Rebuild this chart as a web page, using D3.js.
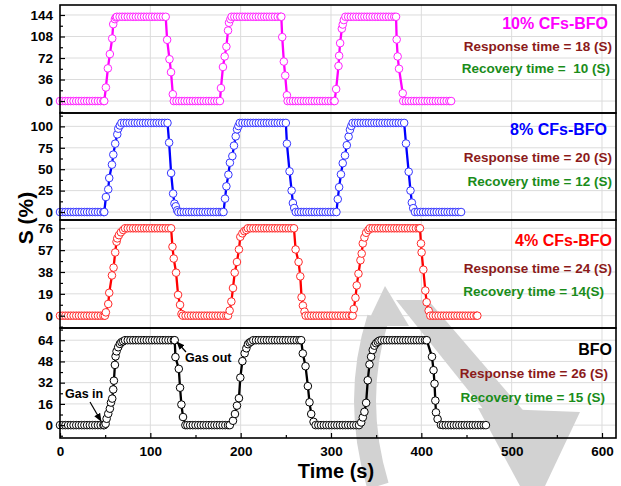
<!DOCTYPE html>
<html><head><meta charset="utf-8">
<script src="https://cdn.jsdelivr.net/npm/d3@7"></script>
<style>
body{margin:0;background:#fff}
text{font-family:"Liberation Sans",Arial,sans-serif;font-weight:bold}
</style>
</head><body>
<svg id="chart" width="621" height="486"></svg>
<script>
// ---------------- DATA ----------------
const xTickValues = [0,100,200,300,400,500,600];
const xMinorTicks = [50,150,250,350,450,550];
const xDomain = [0,615.5];

const panelNames = ["10% CFs-BFO","8% CFs-BFO","4% CFs-BFO","BFO"];
const responseLabels = ["Response time = 18 (S)","Response time = 20 (S)","Response time = 24 (S)","Response time = 26 (S)"];
const recoveryLabels = ["Recovery time =  10 (S)","Recovery time = 12 (S)","Recovery time = 14(S)","Recovery time = 15 (S)"];

const yTicks10 = [0,36,72,108,144];
const yTicks8  = [0,25,50,75,100];
const yTicks4  = [0,19,38,57,76];
const yTicks0  = [0,16,32,48,64];

const yDomain10 = [-20,160.7];
const yDomain8  = [-9.3,115.6];
const yDomain4  = [-10.7,83.2];
const yDomain0  = [-9.7,73.2];

// [time (s), S (%)]
const s10 = [[0,0],[3,0],[6,0],[9,0],[12,0],[15,0],[18,0],[21,0],[24,0],[27,0],[30,0],[33,0],[36,0],[39,0],[42,0],[45,0],[48,0],[49,0],
[50.8,22.7],[53,54.7],[55.2,78.6],[57.8,104.7],[58.9,128.6],[60.8,137],[61.9,140],
[63,141],[66,141],[69,141],[72,141],[75,141],[78,141],[81,141],[84,141],[87,141],[90,141],[93,141],[96,141],[99,141],[102,141],[105,141],[108,141],[111,141],[114,141],[117,141],
[118.6,102.5],[121.2,70],[122.9,48.3],[124.9,11.4],
[126,0],[129,0],[132,0],[135,0],[138,0],[141,0],[144,0],[147,0],[150,0],[153,0],[156,0],[159,0],[162,0],[165,0],[168,0],[171,0],[174,0],[177,0],
[178.2,21.7],[180.4,57],[182.3,74.6],[184.2,91],[186,118],[187.1,131],[188.6,137],
[190,141],[193,141],[196,141],[199,141],[202,141],[205,141],[208,141],[211,141],[214,141],[217,141],[220,141],[223,141],[226,141],[229,141],[232,141],[235,141],[238,141],[241,141],[244,141],[245,141],
[246,107],[247.8,66],[249.3,42.7],[251.2,9.7],
[252,0],[255,0],[258,0],[261,0],[264,0],[267,0],[270,0],[273,0],[276,0],[279,0],[282,0],[285,0],[288,0],[291,0],[294,0],[297,0],[300,0],[303,0],[304,0],
[305.7,20],[308.3,58.6],[309,75.7],[310.1,96.9],[312,121],[313,128],[314.2,135.5],
[316,141],[319,141],[322,141],[325,141],[328,141],[331,141],[334,141],[337,141],[340,141],[343,141],[346,141],[349,141],[352,141],[355,141],[358,141],[361,141],[364,141],[367,141],[370,141],[372,141],
[372.7,103],[373.8,74.6],[375.3,54],[379.4,13],
[380,0],[383,0],[386,0],[389,0],[392,0],[395,0],[398,0],[401,0],[404,0],[407,0],[410,0],[413,0],[416,0],[419,0],[422,0],[425,0],[428,0],[431,0],[433,0]];

const s8 = [[0,0],[3,0],[6,0],[9,0],[12,0],[15,0],[18,0],[21,0],[24,0],[27,0],[30,0],[33,0],[36,0],[39,0],[42,0],[45,0],[48,0],[49,0],
[50.8,17.5],[53.4,26.5],[54.5,39.7],[57.5,55.3],[59,67],[61.1,79.8],[63.4,90.7],[64.5,97.3],[66.3,101],
[68,104],[71,104],[74,104],[77,104],[80,104],[83,104],[86,104],[89,104],[92,104],[95,104],[98,104],[101,104],[104,104],[107,104],[110,104],[113,104],[116,104],[119,104],
[120.8,81],[123,45.5],[125.2,21.5],[126.7,9.8],[128.2,6.7],[129.7,2],
[131,0],[134,0],[137,0],[140,0],[143,0],[146,0],[149,0],[152,0],[155,0],[158,0],[161,0],[164,0],[167,0],[170,0],[173,0],[176,0],[179,0],[181,0],
[182.7,15.6],[184.2,30],[186.4,43.6],[188.1,57.6],[190.8,65.3],[192.6,77.5],[194.5,88.3],[196,96.5],[197.5,100.4],
[199,104],[202,104],[205,104],[208,104],[211,104],[214,104],[217,104],[220,104],[223,104],[226,104],[229,104],[232,104],[235,104],[238,104],[241,104],[244,104],[247,104],[250,104],
[251.2,79.8],[254.1,47.5],[256.4,25],[257.8,10.5],[259.3,4.7],
[261,0],[264,0],[267,0],[270,0],[273,0],[276,0],[279,0],[282,0],[285,0],[288,0],[291,0],[294,0],[297,0],[300,0],[303,0],[306,0],
[307.5,15],[309,29],[311,44],[313,57],[315.5,66],[317.5,78],[319.5,88],[321,96],[322.5,100.5],
[324,104],[327,104],[330,104],[333,104],[336,104],[339,104],[342,104],[345,104],[348,104],[351,104],[354,104],[357,104],[360,104],[363,104],[366,104],[369,104],[372,104],[375,104],[378,104],[381,104],
[383,80],[386,47],[388,25],[389.5,11],[391,4.5],
[393,0],[396,0],[399,0],[402,0],[405,0],[408,0],[411,0],[414,0],[417,0],[420,0],[423,0],[426,0],[429,0],[432,0],[435,0],[438,0],[441,0],[444,0]];

const s4 = [[0,0],[3,0],[6,0],[9,0],[12,0],[15,0],[18,0],[21,0],[24,0],[27,0],[30,0],[33,0],[36,0],[39,0],[42,0],[45,0],[48,0],[49.7,0],
[50.8,2.9],[53.4,10.2],[54.5,19.9],[57.5,35],[59.3,41.8],[61.1,55],[62.6,64.3],[63.4,67.2],[65.2,70],[67.4,72.5],[70,74.5],
[72,76],[75,76],[78,76],[81,76],[84,76],[87,76],[90,76],[93,76],[96,76],[99,76],[102,76],[105,76],[108,76],[111,76],[114,76],[117,76],[120,76],[123,76],
[124.5,59.9],[125.9,49.7],[128.5,37.4],[130.7,18.1],[132.9,9.4],[134.5,1.5],
[136,0],[139,0],[142,0],[145,0],[148,0],[151,0],[154,0],[157,0],[160,0],[163,0],[166,0],[169,0],[172,0],[175,0],[178,0],[181,0],[184,0],[186,0],
[187.8,4.4],[189.7,12.3],[191.5,24],[193.4,37.4],[195.9,46.7],[198.1,57.6],[199.6,68.6],[201.9,71.6],[204,73.5],[206.3,74.5],
[208,76],[211,76],[214,76],[217,76],[220,76],[223,76],[226,76],[229,76],[232,76],[235,76],[238,76],[241,76],[244,76],[247,76],[250,76],[253,76],[256,76],[259,76],
[260.8,57.6],[264.1,46.7],[266,34.2],[267.4,16],[268.9,8.8],[270.7,3.5],
[272,0],[275,0],[278,0],[281,0],[284,0],[287,0],[290,0],[293,0],[296,0],[299,0],[302,0],[305,0],[308,0],[311,0],[314,0],[317,0],[320,0],[323,0],[324,0],
[325.2,5.8],[327.1,15.5],[328.5,26.3],[330.4,36.5],[332.6,48.2],[334,54],[335.2,62.8],[337,68],[338.9,72.1],[341.4,74.5],
[343,76],[346,76],[349,76],[352,76],[355,76],[358,76],[361,76],[364,76],[367,76],[370,76],[373,76],[376,76],[379,76],[382,76],[385,76],[388,76],[391,76],[394,76],[397,76],[398.5,76],
[399.6,62.8],[400.3,55],[402.2,40],[404.4,21.9],[405.9,11.7],[408.1,4.4],
[410,0],[413,0],[416,0],[419,0],[422,0],[425,0],[428,0],[431,0],[434,0],[437,0],[440,0],[443,0],[446,0],[449,0],[452,0],[455,0],[458,0],[461,0],[462,0]];

const s0 = [[0,0],[3,0],[6,0],[9,0],[12,0],[15,0],[18,0],[21,0],[24,0],[27,0],[30,0],[33,0],[36,0],[39,0],[42,0],[45,0],[48,0],[49,0],
[50.5,1],[51.6,4.8],[53.4,8.6],[55.2,12.4],[56.4,17],[57.8,20],[58.9,26.9],[59.7,33.5],[60.8,45.4],[61.5,51.8],[62.6,55.6],[64.4,58.7],[66.3,61.2],[68,62.5],[70,63.2],
[72,64],[75,64],[78,64],[81,64],[84,64],[87,64],[90,64],[93,64],[96,64],[99,64],[102,64],[105,64],[108,64],[111,64],[114,64],[117,64],[120,64],[123,64],[126,64],[127,64],
[127.8,51.3],[131.5,42.4],[132.9,28.2],[134.4,15.5],[136.2,6.1],[138.8,0],
[141,0],[144,0],[147,0],[150,0],[153,0],[156,0],[159,0],[162,0],[165,0],[168,0],[171,0],[174,0],[177,0],[180,0],[183,0],[186,0],[188,0],
[191.5,3.3],[193.7,8.4],[195.9,14.7],[198.1,20.3],[199.6,35.8],[201.9,48.2],[204.4,54.1],[206.3,57.9],[208.1,61],[210,62.3],[211.8,63],
[214,64],[217,64],[220,64],[223,64],[226,64],[229,64],[232,64],[235,64],[238,64],[241,64],[244,64],[247,64],[250,64],[253,64],[256,64],[259,64],[262,64],[265,64],[267,64],
[268.8,54],[271.8,44.4],[274.4,29.4],[276.2,17.2],[278.1,8.4],[280.7,2.5],
[283,0],[286,0],[289,0],[292,0],[295,0],[298,0],[301,0],[304,0],[307,0],[310,0],[313,0],[316,0],[319,0],[322,0],[325,0],[328,0],[331,0],
[333.4,2],[335.2,5.8],[337,10],[338.9,16.8],[340.7,33.8],[342.6,45.7],[344.4,51.5],[346.2,56.6],[348.1,59.9],[349.9,61.7],[351.8,62.8],[353.6,63.7],
[356,64],[359,64],[362,64],[365,64],[368,64],[371,64],[374,64],[377,64],[380,64],[383,64],[386,64],[389,64],[392,64],[395,64],[398,64],[401,64],[404,64],[406,64],
[411.8,51.5],[413.5,41.4],[414.6,31.2],[415.5,18.5],[416.2,9.6],[418,4.6],[421.7,0.2],
[424,0],[427,0],[430,0],[433,0],[436,0],[439,0],[442,0],[445,0],[448,0],[451,0],[454,0],[457,0],[460,0],[463,0],[466,0],[469,0],[471.5,0]];

// ---------------- LAYOUT ----------------
const svg = d3.select("#chart");
const X0 = 60, X1 = 616;
const panelTop = [5,113,220,328];
const panelBot = [113,220,328,438];
const colors = ["#ff00ff","#0000ff","#ff0000","#000000"];
const markerStroke = ["#ff22ff","#3535ff","#ff2a2a","#000000"];
const seriesList = [s10,s8,s4,s0];
const tickList = [yTicks10,yTicks8,yTicks4,yTicks0];
const domainList = [yDomain10,yDomain8,yDomain4,yDomain0];
const nameY = [23,129,240,349], respY = [46,157,268,373], recY = [68,181,291,397];
const nameX = [608,607,612,612], respX = [612,612,612,608], recX = [610,612,604,605];

const x = d3.scaleLinear().domain(xDomain).range([X0,X1]);

// grid
panelTop.forEach((top,i)=>{
  const y = d3.scaleLinear().domain(domainList[i]).range([panelBot[i],top]);
  const g = svg.append("g");
  g.selectAll("line.v").data(xTickValues.filter(d=>d>0)).join("line")
    .attr("x1",d=>x(d)).attr("x2",d=>x(d)).attr("y1",top).attr("y2",panelBot[i])
    .attr("stroke","#dcdcdc").attr("stroke-width",1);
  g.selectAll("line.h").data(tickList[i]).join("line")
    .attr("x1",X0).attr("x2",X1).attr("y1",d=>y(d)).attr("y2",d=>y(d))
    .attr("stroke","#dcdcdc").attr("stroke-width",1);
});

// watermark (light gray logo)
const wm = svg.append("g").attr("fill","#d2d2d2").attr("stroke","none");
wm.append("path").attr("d","M385,286 L366,326 L409,326 Z");
wm.append("path").attr("d","M378,318 Q352,400 378,486").attr("fill","none").attr("stroke","#d2d2d2").attr("stroke-width",22);
wm.append("path").attr("d","M396,300 L428,300 L540,430 L508,440 Z");
wm.append("path").attr("d","M478,408 L580,412 L545,486 L520,486 Z");

// series
panelTop.forEach((top,i)=>{
  const y = d3.scaleLinear().domain(domainList[i]).range([panelBot[i],top]);
  const data = seriesList[i];
  const line = d3.line().x(d=>x(d[0])).y(d=>y(d[1]));
  svg.append("path").datum(data).attr("d",line)
    .attr("fill","none").attr("stroke",colors[i]).attr("stroke-width",2.3);
  svg.append("g").selectAll("circle").data(data).join("circle")
    .attr("cx",d=>x(d[0])).attr("cy",d=>y(d[1])).attr("r",3.8)
    .attr("fill","#fff").attr("stroke",markerStroke[i]).attr("stroke-width",1);
});

// axes + frames
panelTop.forEach((top,i)=>{
  const y = d3.scaleLinear().domain(domainList[i]).range([panelBot[i],top]);
  const t = tickList[i];
  const step = t[1]-t[0];
  const minor = t.map(v=>v+step/2).concat([t[0]-step/2]).filter(v=>v>domainList[i][0]&&v<domainList[i][1]);
  const ax = svg.append("g").attr("transform",`translate(${X0},0)`)
    .call(d3.axisLeft(y).tickValues(t).tickSize(-5).tickPadding(7));
  ax.select(".domain").remove();
  ax.selectAll("line").attr("stroke","#000").attr("stroke-width",1.2);
  ax.selectAll("text").attr("font-size","13.5px").attr("font-family","Liberation Sans, Arial, sans-serif")
    .attr("font-weight","bold").attr("fill","#000");
  const axm = svg.append("g").attr("transform",`translate(${X0},0)`)
    .call(d3.axisLeft(y).tickValues(minor).tickSize(-3).tickFormat(""));
  axm.select(".domain").remove();
  axm.selectAll("line").attr("stroke","#000").attr("stroke-width",1.2);

  svg.append("rect").attr("x",X0).attr("y",top).attr("width",X1-X0).attr("height",panelBot[i]-top)
    .attr("fill","none").attr("stroke","#000").attr("stroke-width",1.6);

  // labels
  svg.append("text").attr("x",nameX[i]).attr("y",nameY[i]).attr("text-anchor","end")
    .attr("dominant-baseline","central").attr("font-size","16px").attr("fill",colors[i]).text(panelNames[i]);
  svg.append("text").attr("x",respX[i]).attr("y",respY[i]).attr("text-anchor","end")
    .attr("dominant-baseline","central").attr("font-size","13.5px").attr("fill","#8b1a1a").text(responseLabels[i]);
  svg.append("text").attr("x",recX[i]).attr("y",recY[i]).attr("text-anchor","end")
    .attr("dominant-baseline","central").attr("font-size","13.5px").attr("fill","#1a8c1a")
    .style("white-space","pre").text(recoveryLabels[i]);
});

// x axis
const xa = svg.append("g").attr("transform",`translate(0,${panelBot[3]})`)
  .call(d3.axisBottom(x).tickValues(xTickValues).tickSize(-5).tickPadding(8));
xa.select(".domain").remove();
xa.selectAll("line").attr("stroke","#000").attr("stroke-width",1.2);
xa.selectAll("text").attr("font-size","13.5px").attr("font-family","Liberation Sans, Arial, sans-serif")
  .attr("font-weight","bold").attr("fill","#000");
const xm = svg.append("g").attr("transform",`translate(0,${panelBot[3]})`)
  .call(d3.axisBottom(x).tickValues(xMinorTicks).tickSize(-3).tickFormat(""));
xm.select(".domain").remove();
xm.selectAll("line").attr("stroke","#000").attr("stroke-width",1.2);

svg.append("text").attr("x",336).attr("y",478).attr("text-anchor","middle")
  .attr("font-size","20px").text("Time (s)");
svg.append("text").attr("transform","translate(25,218) rotate(-90)").attr("text-anchor","middle")
  .attr("dominant-baseline","central").attr("font-size","21px").text("S (%)");

// annotations
const defs = svg.append("defs");
defs.append("marker").attr("id","ah").attr("viewBox","0 0 10 10").attr("refX",9).attr("refY",5)
  .attr("markerWidth",7).attr("markerHeight",7).attr("orient","auto")
  .append("path").attr("d","M0,1 L10,5 L0,9 Z").attr("fill","#000");
svg.append("text").attr("x",65).attr("y",398).attr("font-size","12.5px").text("Gas in");
svg.append("line").attr("x1",90).attr("y1",402).attr("x2",101).attr("y2",421)
  .attr("stroke","#000").attr("stroke-width",1.2).attr("marker-end","url(#ah)");
svg.append("text").attr("x",185).attr("y",362).attr("font-size","12.5px").text("Gas out");
svg.append("line").attr("x1",186).attr("y1",352).attr("x2",177).attr("y2",342)
  .attr("stroke","#000").attr("stroke-width",1.2).attr("marker-end","url(#ah)");
</script>
</body></html>
